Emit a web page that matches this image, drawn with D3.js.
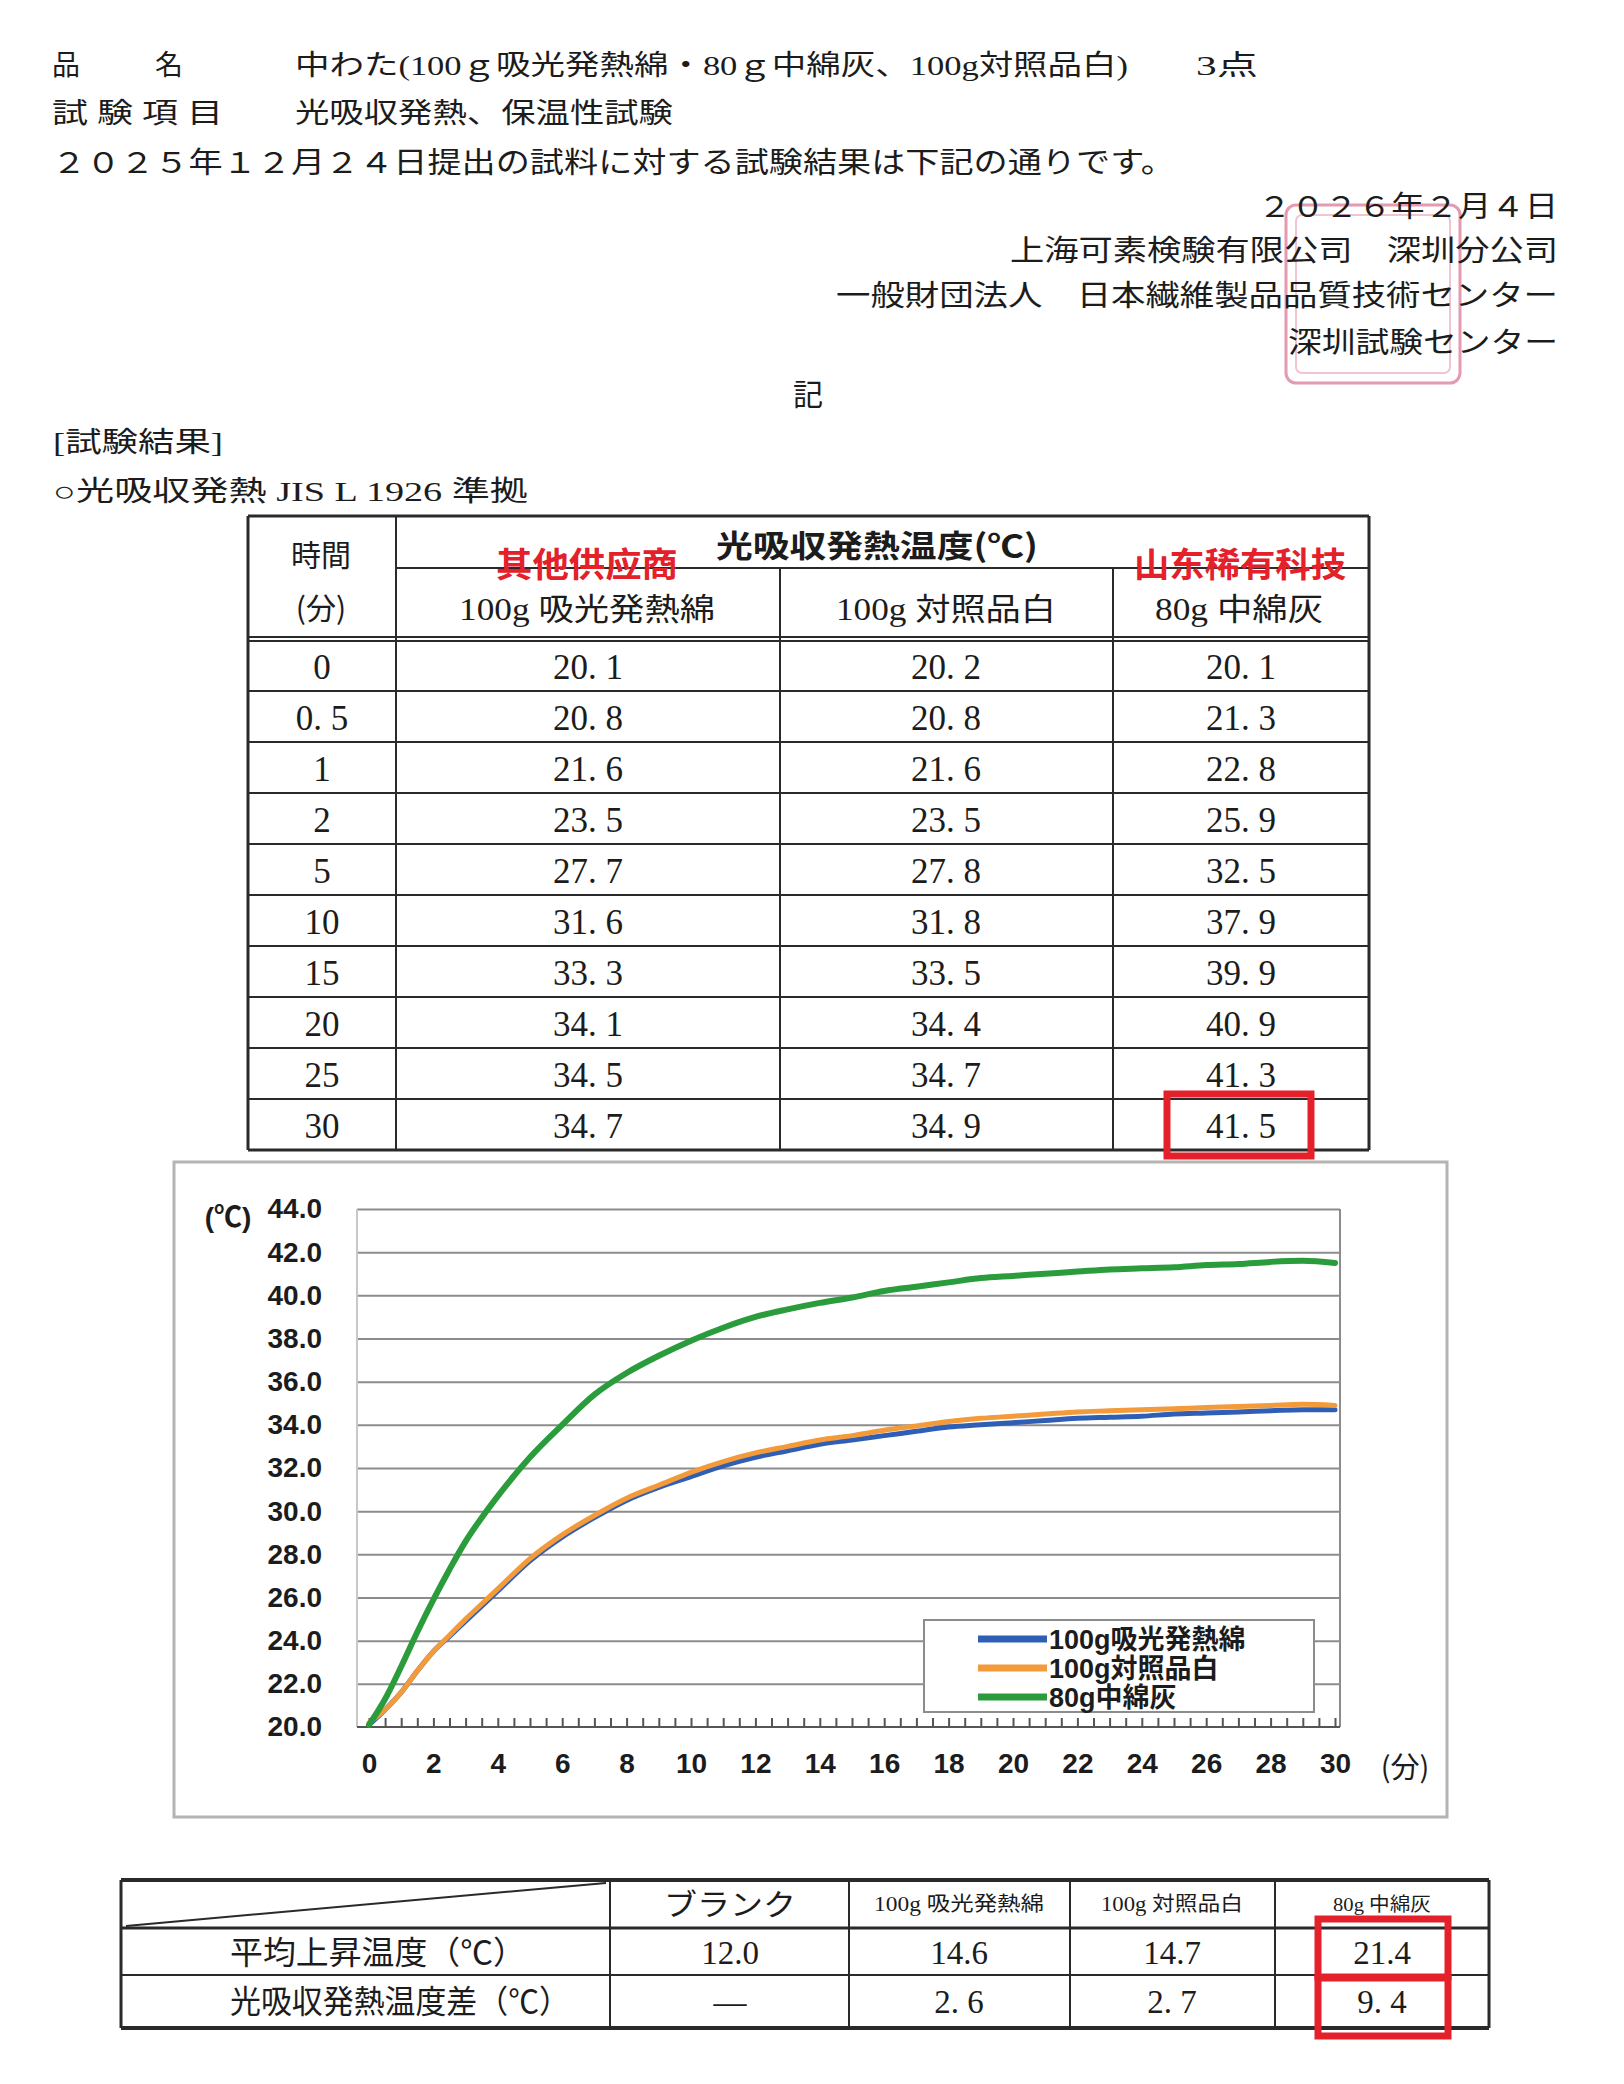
<!DOCTYPE html>
<html lang="ja">
<head>
<meta charset="UTF-8">
<title>光吸収発熱 試験結果</title>
<script src="https://cdn.jsdelivr.net/npm/d3@7"></script>
<style>
  body { margin: 0; background: #fff; }
  svg text { font-family: "Liberation Serif", "Noto Sans CJK JP", serif; fill: #1c1c1c; }
  svg .sans { font-family: "Liberation Sans", Arial, "Noto Sans CJK JP", sans-serif; }
  svg .cjk { font-family: "Noto Sans CJK JP", sans-serif; }
</style>
</head>
<body>
<script>
// 表の値（時間ごとの温度）
const tableTimes = ["0", "0.5", "1", "2", "5", "10", "15", "20", "25", "30"]
const tableAbsorb = [20.1, 20.8, 21.6, 23.5, 27.7, 31.6, 33.3, 34.1, 34.5, 34.7]
const tableWhite = [20.2, 20.8, 21.6, 23.5, 27.8, 31.8, 33.5, 34.4, 34.7, 34.9]
const tableGray = [20.1, 21.3, 22.8, 25.9, 32.5, 37.9, 39.9, 40.9, 41.3, 41.5]

// グラフの値
const minutes = [0, 0.5, 1, 1.5, 2, 2.5, 3, 3.5, 4, 5, 6, 7, 8, 9, 10, 11, 12, 13, 14, 15,
  16, 17, 18, 19, 20, 21, 22, 23, 24, 25, 26, 27, 28, 29, 30]
const absorbTemp = [20.1, 20.8, 21.6, 22.6, 23.5, 24.2, 24.9, 25.6, 26.3, 27.7, 28.8, 29.7, 30.5, 31.1, 31.6,
  32.1, 32.5, 32.8, 33.1, 33.3, 33.5, 33.7, 33.9, 34.0, 34.1, 34.2, 34.3, 34.35, 34.4, 34.5, 34.55, 34.6, 34.65, 34.7, 34.7]
const whiteTemp = [20.2, 20.8, 21.6, 22.6, 23.5, 24.25, 25.0, 25.7, 26.4, 27.8, 28.9, 29.8, 30.6, 31.2, 31.8,
  32.3, 32.7, 33.0, 33.3, 33.5, 33.75, 33.95, 34.15, 34.3, 34.4, 34.5, 34.6, 34.65, 34.7, 34.75, 34.8, 34.85, 34.9, 34.95, 34.9]
const grayTemp = [20.1, 21.3, 22.8, 24.4, 25.9, 27.3, 28.6, 29.7, 30.7, 32.5, 34.0, 35.4, 36.4, 37.2, 37.9,
  38.5, 39.0, 39.35, 39.65, 39.9, 40.2, 40.4, 40.6, 40.8, 40.9, 41.0, 41.1, 41.2, 41.25, 41.3, 41.4, 41.45, 41.55, 41.6, 41.5]
const seriesNames = ["100g吸光発熱綿", "100g対照品白", "80g中綿灰"]

const yTicks = [20, 22, 24, 26, 28, 30, 32, 34, 36, 38, 40, 42, 44]
const xTicks = [0, 2, 4, 6, 8, 10, 12, 14, 16, 18, 20, 22, 24, 26, 28, 30]

// 平均上昇温度の表
const summaryCols = ["ブランク", "100g 吸光発熱綿", "100g 対照品白", "80g 中綿灰"]
const summaryRows = ["平均上昇温度（℃）", "光吸収発熱温度差（℃）"]
const avgRise = [12.0, 14.6, 14.7, 21.4]
const tempDiff = [null, 2.6, 2.7, 9.4]

const colors = ["#2f5fb5", "#f39a3a", "#2a9c3c"]
const red = "#e4202a"
const fmt = d3.format(".1f")

const svg = d3.select("body").append("svg")
  .attr("width", 1624)
  .attr("height", 2084)

svg.append("rect").attr("width", 1624).attr("height", 2084).attr("fill", "#fff")

function label(x, y, str, size, anchor, len) {
  const t = svg.append("text")
    .attr("x", x).attr("y", y)
    .attr("font-size", size)
    .attr("text-anchor", anchor || "start")
    .attr("dominant-baseline", "central")
    .text(str)
  if (len) t.attr("textLength", len).attr("lengthAdjust", "spacingAndGlyphs")
  return t
}

function hline(x1, x2, y, w, c) {
  svg.append("line").attr("x1", x1).attr("x2", x2).attr("y1", y).attr("y2", y)
    .attr("stroke", c || "#2a2a2a").attr("stroke-width", w || 2)
}
function vline(x, y1, y2, w, c) {
  svg.append("line").attr("x1", x).attr("x2", x).attr("y1", y1).attr("y2", y2)
    .attr("stroke", c || "#2a2a2a").attr("stroke-width", w || 2)
}

// ---- 文書の頭書き ----
label(52, 65, "品", 28)
label(155, 65, "名", 28)
label(295, 65, "中わた(100ｇ吸光発熱綿・80ｇ中綿灰、100g対照品白)", 28, "start", 833)
label(1196, 65, "3点", 28, "start", 62)
label(52, 113, "試 験 項 目", 28, "start", 171)
label(295, 113, "光吸収発熱、保温性試験", 28, "start", 378)
label(52, 163, "２０２５年１２月２４日提出の試料に対する試験結果は下記の通りです。", 29, "start", 1123)

// 印影（枠のみ）
svg.append("rect").attr("x", 1286).attr("y", 205).attr("width", 174).attr("height", 178)
  .attr("rx", 10).attr("fill", "none").attr("stroke", "#e49ab0").attr("stroke-width", 3)
svg.append("rect").attr("x", 1296).attr("y", 215).attr("width", 154).attr("height", 158)
  .attr("rx", 6).attr("fill", "none").attr("stroke", "#f2c4d2").attr("stroke-width", 2)

label(1558, 207, "２０２６年２月４日", 29, "end", 300)
label(1558, 251, "上海可素検験有限公司　深圳分公司", 29, "end", 548)
label(1558, 296, "一般財団法人　日本繊維製品品質技術センター", 29, "end", 722)
label(1558, 343, "深圳試験センター", 29, "end", 270)
label(808, 394, "記", 30, "middle")
label(53, 442, "[試験結果]", 28, "start", 170)
label(53, 491, "○光吸収発熱 JIS L 1926 準拠", 28, "start", 475)

// ---- 上の表 ----
const colX = [248, 396, 780, 1113, 1369]
const tTop = 516, tMid = 568, tHead = 640, tBottom = 1150
const rowY = d3.scaleBand().domain(tableTimes).range([tHead, tBottom])

hline(colX[0], colX[4], tTop, 3)
hline(colX[1], colX[4], tMid, 2)
hline(colX[0], colX[4], tHead - 3, 2)
hline(colX[0], colX[4], tHead + 1, 2)
tableTimes.forEach((d, i) => { if (i > 0) hline(colX[0], colX[4], rowY(d), 2) })
hline(colX[0], colX[4], tBottom, 3)
vline(colX[0], tTop, tBottom, 3)
vline(colX[1], tTop, tBottom, 2)
vline(colX[2], tMid, tBottom, 2)
vline(colX[3], tMid, tBottom, 2)
vline(colX[4], tTop, tBottom, 3)

label(321, 553, "時間", 30, "middle").attr("class", "cjk")
label(321, 606, "(分)", 30, "middle").attr("class", "cjk")
label(877, 543, "光吸収発熱温度(℃)", 31, "middle", 322).attr("class", "cjk").attr("font-weight", 700)
label(587, 609, "100g 吸光発熱綿", 31, "middle", 256)
label(946, 609, "100g 対照品白", 31, "middle", 220)
label(1239, 609, "80g 中綿灰", 31, "middle", 168)
label(587, 562, "其他供应商", 34, "middle", 182).attr("class", "cjk").attr("font-weight", 700).style("fill", red)
label(1240, 562, "山东稀有科技", 34, "middle", 212).attr("class", "cjk").attr("font-weight", 700).style("fill", red)

const cellCenters = [322, 588, 946, 1241]
tableTimes.forEach((t, i) => {
  const cy = rowY(t) + rowY.bandwidth() / 2 + 2
  label(cellCenters[0], cy, t.replace(".", ". "), 35, "middle")
  label(cellCenters[1], cy, fmt(tableAbsorb[i]).replace(".", ". "), 35, "middle")
  label(cellCenters[2], cy, fmt(tableWhite[i]).replace(".", ". "), 35, "middle")
  label(cellCenters[3], cy, fmt(tableGray[i]).replace(".", ". "), 35, "middle")
})
svg.append("rect").attr("x", 1167).attr("y", 1094).attr("width", 144).attr("height", 62)
  .attr("fill", "none").attr("stroke", red).attr("stroke-width", 7)

// ---- グラフ ----
svg.append("rect").attr("x", 174).attr("y", 1162).attr("width", 1273).attr("height", 655)
  .attr("fill", "#fff").attr("stroke", "#b4b4b4").attr("stroke-width", 3)

const plotL = 357, plotR = 1340
const x = d3.scaleLinear().domain([0, 30]).range([369, 1335])
const y = d3.scaleLinear().domain([20, 44]).range([1727, 1209])

const grid = svg.append("g")
  .attr("transform", `translate(${plotL},0)`)
  .call(d3.axisLeft(y).tickValues(yTicks.slice(1)).tickSize(-(plotR - plotL)).tickFormat(""))
grid.select(".domain").remove()
grid.selectAll("line").attr("stroke", "#8c8c8c").attr("stroke-width", 2)
vline(plotL, y(44), y(20), 2, "#c8c8c8")
vline(plotR, y(44), y(20), 2, "#8c8c8c")

const yLab = svg.append("g")
  .attr("transform", "translate(322,0)")
  .call(d3.axisLeft(y).tickValues(yTicks).tickSize(0).tickPadding(0).tickFormat(fmt))
yLab.select(".domain").remove()
yLab.selectAll("text").attr("class", "sans").attr("font-size", 28).attr("font-weight", 700).style("fill", "#1c1c1c")

const xMinor = svg.append("g")
  .attr("transform", `translate(0,${y(20)})`)
  .call(d3.axisBottom(x).tickValues(d3.range(0, 30.01, 0.5)).tickSize(-9).tickFormat(""))
xMinor.select(".domain").remove()
xMinor.selectAll("line").attr("stroke", "#555").attr("stroke-width", 2)
hline(plotL, plotR, y(20), 2, "#555")

const xLab = svg.append("g")
  .attr("transform", `translate(0,${y(20)})`)
  .call(d3.axisBottom(x).tickValues(xTicks).tickSize(0).tickPadding(26))
xLab.select(".domain").remove()
xLab.selectAll("text").attr("class", "sans").attr("font-size", 28).attr("font-weight", 700).style("fill", "#1c1c1c")

label(1405, 1765, "(分)", 29, "middle").attr("class", "cjk")
label(228, 1217, "(℃)", 28, "middle").attr("class", "sans").attr("font-weight", 700)

const series = [absorbTemp, whiteTemp, grayTemp]
const line = d3.line()
  .x((d, i) => x(minutes[i]))
  .y(d => y(d))
  .curve(d3.curveMonotoneX)

series.forEach((s, k) => {
  svg.append("path")
    .attr("d", line(s))
    .attr("fill", "none")
    .attr("stroke", colors[k])
    .attr("stroke-width", k === 2 ? 6 : 5)
    .attr("stroke-linejoin", "round")
    .attr("stroke-linecap", "round")
})

// 凡例
svg.append("rect").attr("x", 924).attr("y", 1620).attr("width", 390).attr("height", 92)
  .attr("fill", "#fff").attr("stroke", "#8c8c8c").attr("stroke-width", 2)
seriesNames.forEach((n, k) => {
  const ly = 1639 + k * 29
  svg.append("line").attr("x1", 978).attr("x2", 1047).attr("y1", ly).attr("y2", ly)
    .attr("stroke", colors[k]).attr("stroke-width", 7)
  label(1049, ly + 1, n, 27).attr("class", "sans").attr("font-weight", 700)
})

// ---- 下の表 ----
const sCol = [121, 610, 849, 1070, 1275, 1489]
const sTop = 1880, sHead = 1928, sMid = 1975, sBottom = 2028
hline(sCol[0], sCol[5], sTop, 4)
hline(sCol[0], sCol[5], sHead, 3)
hline(sCol[0], sCol[5], sMid, 2)
hline(sCol[0], sCol[5], sBottom, 4)
sCol.forEach((c, i) => vline(c, sTop, sBottom, i === 0 || i === 5 ? 3 : 2))
svg.append("line").attr("x1", 126).attr("y1", sHead - 2).attr("x2", 606).attr("y2", sTop + 3)
  .attr("stroke", "#2a2a2a").attr("stroke-width", 2)

const colMid = [730, 959, 1172, 1382]
label(colMid[0], 1904, summaryCols[0], 30, "middle", 132)
label(colMid[1], 1904, summaryCols[1], 20, "middle", 170)
label(colMid[2], 1904, summaryCols[2], 20, "middle", 142)
label(colMid[3], 1904, summaryCols[3], 19, "middle", 98)

label(230, 1953, summaryRows[0], 32, "start", 296)
label(230, 2002, summaryRows[1], 32, "start", 340)
avgRise.forEach((v, i) => label(colMid[i], 1953, fmt(v), 33, "middle"))
tempDiff.forEach((v, i) => label(colMid[i], 2002, v == null ? "—" : fmt(v).replace(".", ". "), 33, "middle"))

svg.append("rect").attr("x", 1318).attr("y", 1919).attr("width", 130).attr("height", 58)
  .attr("fill", "none").attr("stroke", red).attr("stroke-width", 7)
svg.append("rect").attr("x", 1318).attr("y", 1978).attr("width", 130).attr("height", 58)
  .attr("fill", "none").attr("stroke", red).attr("stroke-width", 7)
</script>
</body>
</html>
